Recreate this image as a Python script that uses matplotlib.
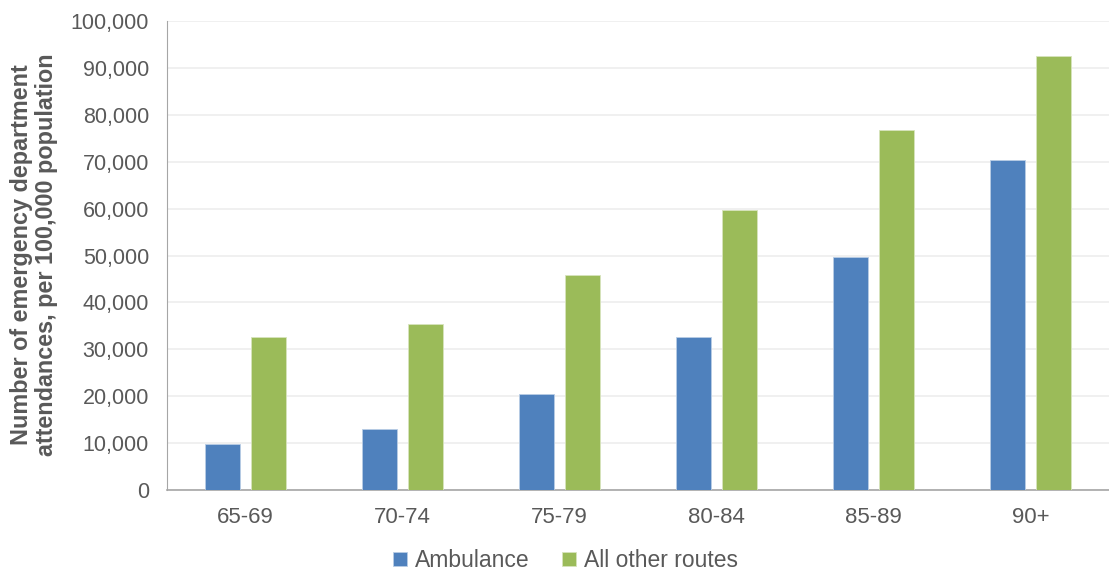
import matplotlib
matplotlib.use("Agg")
import matplotlib.pyplot as plt
import numpy as np
from matplotlib.ticker import FuncFormatter

plt.rcParams['font.family'] = ['Liberation Sans', 'DejaVu Sans']

categories = ["65-69", "70-74", "75-79", "80-84", "85-89", "90+"]
ambulance = [9750, 13000, 20400, 32600, 49600, 70300]
other_routes = [32600, 35300, 45800, 59700, 76700, 92600]
series_names = ["Ambulance", "All other routes"]
y_ticks = list(range(0, 100001, 10000))

fig = plt.figure(figsize=(11.09, 5.75), dpi=100)
ax = fig.add_axes([0.1506, 0.1478, 0.8494, 0.8157])

x = np.arange(len(categories))
w = 0.223
off = 0.145
blue = "#4F81BD"
green = "#9BBB59"
ax.bar(x - off, ambulance, width=w, color=blue, edgecolor="#B9CDE5", linewidth=0.6,
       label=series_names[0], zorder=3)
ax.bar(x + off, other_routes, width=w, color=green, edgecolor="#D7E4BD", linewidth=0.6,
       label=series_names[1], zorder=3)

ax.set_xlim(-0.5, len(categories) - 0.5)
ax.set_ylim(0, 100000)
ax.set_yticks(y_ticks)
ax.yaxis.set_major_formatter(FuncFormatter(lambda v, p: f"{int(v):,}"))
ax.set_xticks(x)
ax.set_xticklabels(categories)

ax.grid(axis='y', color="#EDEDED", linewidth=1.2, zorder=0)
ax.set_axisbelow(True)
for s in ["top", "right"]:
    ax.spines[s].set_visible(False)
ax.spines["left"].set_color("#A6A6A6")
ax.spines["bottom"].set_color("#A6A6A6")
ax.spines["bottom"].set_linewidth(1.2)
ax.tick_params(axis='y', length=0, pad=13, labelsize=15.5, labelcolor="#595959")
ax.tick_params(axis='x', length=0, pad=12, labelsize=16, labelcolor="#595959")

fig.text(0.0307, 0.5565, "Number of emergency department\nattendances, per 100,000 population",
         rotation=90, ha='center', va='center', fontsize=16.8, fontweight='bold',
         color="#595959", linespacing=1.15)

handles, labels = ax.get_legend_handles_labels()
fig.legend(handles, labels, loc='center', bbox_to_anchor=(0.51, 0.025), ncol=2,
           frameon=False, fontsize=16.5, labelcolor="#595959", handlelength=0.6,
           handleheight=0.6, handletextpad=0.35, columnspacing=1.4)

fig.savefig("out.png", dpi=100)
